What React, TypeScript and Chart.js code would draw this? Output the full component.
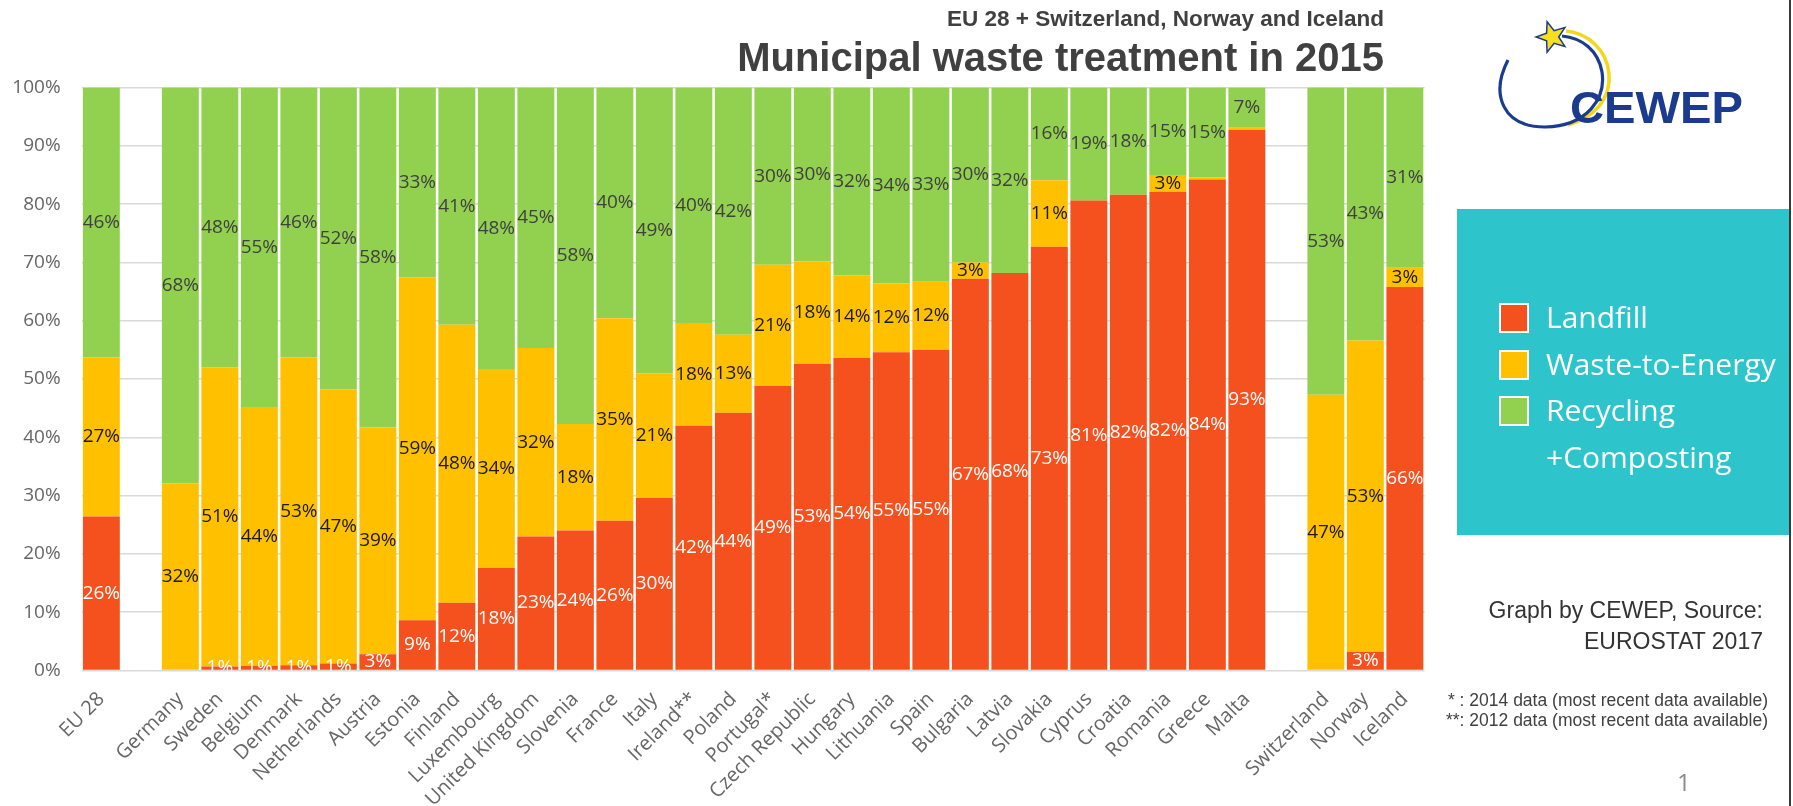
import React, { useEffect, useRef } from 'react';
import { Chart, registerables } from 'chart.js';

Chart.register(...registerables);

// Categories along the x axis (empty strings are spacer slots)
const CATEGORIES = [
  'EU 28', '', 'Germany', 'Sweden', 'Belgium', 'Denmark', 'Netherlands', 'Austria',
  'Estonia', 'Finland', 'Luxembourg', 'United Kingdom', 'Slovenia', 'France', 'Italy',
  'Ireland**', 'Poland', 'Portugal*', 'Czech Republic', 'Hungary', 'Lithuania', 'Spain',
  'Bulgaria', 'Latvia', 'Slovakia', 'Cyprus', 'Croatia', 'Romania', 'Greece', 'Malta',
  '', 'Switzerland', 'Norway', 'Iceland',
];

// Share of municipal waste by treatment, in percent
const LANDFILL = [
  26.4, null, 0, 0.7, 0.8, 0.9, 1.2, 2.8, 8.6, 11.6, 17.6, 23.0, 24.0, 25.7, 29.6,
  42.0, 44.2, 48.8, 52.6, 53.6, 54.6, 55.0, 67.2, 68.2, 72.7, 80.6, 81.6, 82.1, 84.2, 92.7,
  null, 0, 3.2, 65.8,
];
const WASTE_TO_ENERGY = [
  27.3, null, 32.1, 51.3, 44.4, 52.8, 47.0, 38.9, 58.8, 47.7, 34.1, 32.3, 18.3, 34.7, 21.4,
  17.6, 13.4, 20.8, 17.6, 14.2, 11.8, 11.7, 2.8, 0, 11.4, 0, 0, 2.9, 0.4, 0.4,
  null, 47.3, 53.4, 3.3,
];
const RECYCLING = [
  46.3, null, 67.9, 48.0, 54.8, 46.3, 51.8, 58.3, 32.6, 40.7, 48.3, 44.7, 57.7, 39.6, 49.0,
  40.4, 42.4, 30.4, 29.8, 32.2, 33.6, 33.3, 30.0, 31.8, 15.9, 19.4, 18.4, 15.0, 15.4, 6.9,
  null, 52.7, 43.4, 30.9,
];

const SERIES_NAMES = ['Landfill', 'Waste-to-Energy', 'Recycling +Composting'];
const SERIES_COLORS = ['#F4511E', '#FFC000', '#92D050'];
const LABEL_COLORS = ['#FFFFFF', '#1A1A1A', '#404040'];
const Y_TICKS = [0, 10, 20, 30, 40, 50, 60, 70, 80, 90, 100];

const W = 1793;
const H = 806;
const PLOT_LEFT = 81.6;
const PLOT_RIGHT = 1424.6;
const PLOT_TOP = 87.5;
const PLOT_BOTTOM = 670.5;

const CHART_FONT = '"Open Sans", "Noto Sans", sans-serif';
const ARIAL = '"Liberation Sans", Arial, sans-serif';

// Percentage labels centred in every visible segment, clipped to the plot area
const segmentLabels = {
  id: 'segmentLabels',
  afterDatasetsDraw(chart: any) {
    const { ctx, chartArea } = chart;
    ctx.save();
    ctx.beginPath();
    ctx.rect(chartArea.left, chartArea.top, chartArea.right - chartArea.left, chartArea.bottom - chartArea.top);
    ctx.clip();
    ctx.font = `19px ${CHART_FONT}`;
    ctx.textAlign = 'center';
    ctx.textBaseline = 'middle';
    chart.data.datasets.forEach((ds: any, i: number) => {
      const meta = chart.getDatasetMeta(i);
      meta.data.forEach((bar: any, j: number) => {
        const v = ds.data[j];
        if (v == null) return;
        const r = Math.round(v);
        if (r === 0) return;
        const { x, y, base } = bar.getProps(['x', 'y', 'base'], true);
        ctx.fillStyle = LABEL_COLORS[i];
        ctx.fillText(`${r}%`, x, (y + base) / 2);
      });
    });
    ctx.restore();
  },
};

function WasteChart() {
  const ref = useRef<HTMLCanvasElement | null>(null);

  useEffect(() => {
    if (!ref.current) return;
    const seriesData = [LANDFILL, WASTE_TO_ENERGY, RECYCLING];
    const chart = new Chart(ref.current, {
      type: 'bar',
      data: {
        labels: CATEGORIES,
        datasets: SERIES_NAMES.map((name, i) => ({
          label: name,
          data: seriesData[i],
          backgroundColor: SERIES_COLORS[i],
          borderWidth: 0,
          barPercentage: 0.935,
          categoryPercentage: 1,
        })),
      },
      options: {
        responsive: false,
        animation: false,
        devicePixelRatio: 1,
        layout: {
          padding: { top: PLOT_TOP, right: W - PLOT_RIGHT, left: 0, bottom: 0 },
        },
        plugins: {
          legend: { display: false },
          tooltip: { enabled: false },
          title: { display: false },
        },
        scales: {
          x: {
            stacked: true,
            grid: { display: false, drawTicks: false },
            border: { display: false },
            ticks: {
              autoSkip: false,
              maxRotation: 45,
              minRotation: 45,
              padding: 17,
              color: '#666666',
              font: { family: CHART_FONT, size: 20 },
            },
            afterFit: (s: any) => {
              s.height = H - PLOT_BOTTOM;
            },
          },
          y: {
            stacked: true,
            min: 0,
            max: 100,
            afterBuildTicks: (s: any) => {
              s.ticks = Y_TICKS.map((v) => ({ value: v }));
            },
            grid: { color: '#D9D9D9', lineWidth: 1.5, drawTicks: false },
            border: { display: false },
            ticks: {
              padding: 21,
              color: '#666666',
              font: { family: CHART_FONT, size: 19 },
              callback: (v: any) => `${v}%`,
            },
            afterFit: (s: any) => {
              s.width = PLOT_LEFT;
            },
          },
        },
      },
      plugins: [segmentLabels],
    });
    return () => chart.destroy();
  }, []);

  return (
    <canvas
      ref={ref}
      width={W}
      height={H}
      style={{ position: 'absolute', left: 0, top: 0, width: W, height: H }}
    />
  );
}

function Star({ cx, cy, r, rot }: { cx: number; cy: number; r: number; rot: number }) {
  const pts: string[] = [];
  for (let k = 0; k < 10; k++) {
    const rad = k % 2 === 0 ? r : r * 0.42;
    const a = ((rot + k * 36 - 90) * Math.PI) / 180;
    pts.push(`${(cx + rad * Math.cos(a)).toFixed(1)},${(cy + rad * Math.sin(a)).toFixed(1)}`);
  }
  return <polygon points={pts.join(' ')} fill="#F7E01B" stroke="#1B3C8E" strokeWidth={1.5} />;
}

function Logo() {
  return (
    <svg
      width={W}
      height={H}
      style={{ position: 'absolute', left: 0, top: 0, pointerEvents: 'none' }}
    >
      <path
        d="M 1566 31 C 1588 33, 1607 50, 1609 74 C 1611 100, 1593 118, 1568 125"
        fill="none"
        stroke="#F2D81C"
        strokeWidth={3.5}
      />
      <path
        d="M 1508 60 C 1490 95, 1503 127, 1545 127 C 1588 126, 1606 98, 1602 72 C 1598 50, 1582 38, 1562 36"
        fill="none"
        stroke="#1B3C8E"
        strokeWidth={3.2}
      />
      <Star cx={1552} cy={37} r={16} rot={-18} />
      <text
        x={1570}
        y={123}
        fill="#1B3C8E"
        textLength={173}
        lengthAdjust="spacingAndGlyphs"
        style={{ font: `bold 45px ${ARIAL}` }}
      >
        CEWEP
      </text>
      <rect x={1789} y={0} width={2} height={H} fill="#3A3A3A" />
    </svg>
  );
}

function Legend() {
  return (
    <div
      style={{
        position: 'absolute',
        left: 1457,
        top: 209,
        width: 1789 - 1457,
        height: 326,
        background: '#2EC4CB',
      }}
    >
      {SERIES_NAMES.map((name, i) => (
        <div key={name} style={{ position: 'absolute', left: 42, top: 94 + i * 46.5 }}>
          <div
            style={{
              position: 'absolute',
              left: 0,
              top: 0,
              width: 26,
              height: 26,
              background: SERIES_COLORS[i],
              border: '2px solid #FFFFFF',
            }}
          />
          <div
            style={{
              position: 'absolute',
              left: 47,
              top: 0,
              whiteSpace: 'pre',
              color: '#FFFFFF',
              font: `30px/46.5px ${CHART_FONT}`,
              marginTop: -9,
            }}
          >
            {name.replace(' +', '\n+')}
          </div>
        </div>
      ))}
    </div>
  );
}

export default function App() {
  return (
    <div
      style={{
        position: 'absolute',
        left: 0,
        top: 0,
        width: W,
        height: H,
        background: '#FFFFFF',
        overflow: 'hidden',
      }}
    >
      <WasteChart />
      <div
        style={{
          position: 'absolute',
          right: W - 1384,
          top: 7,
          font: `bold 22.5px/24px ${ARIAL}`,
          color: '#404040',
          whiteSpace: 'nowrap',
        }}
      >
        EU 28 + Switzerland, Norway and Iceland
      </div>
      <div
        style={{
          position: 'absolute',
          right: W - 1384,
          top: 36,
          font: `bold 40px/42px ${ARIAL}`,
          color: '#404040',
          whiteSpace: 'nowrap',
        }}
      >
        Municipal waste treatment in 2015
      </div>
      <Logo />
      <Legend />
      <div
        style={{
          position: 'absolute',
          right: W - 1763,
          top: 595,
          font: `23px/31px ${ARIAL}`,
          color: '#333333',
          textAlign: 'right',
          whiteSpace: 'pre',
        }}
      >
        {'Graph by CEWEP, Source:\nEUROSTAT 2017'}
      </div>
      <div
        style={{
          position: 'absolute',
          right: W - 1768,
          top: 690,
          font: `17.5px/20px ${ARIAL}`,
          color: '#404040',
          textAlign: 'right',
          whiteSpace: 'pre',
        }}
      >
        {'* : 2014 data (most recent data available)\n**: 2012 data (most recent data available)'}
      </div>
      <div
        style={{
          position: 'absolute',
          left: 1677,
          top: 766,
          font: `24px/32px ${CHART_FONT}`,
          color: '#8A8A8A',
        }}
      >
        1
      </div>
    </div>
  );
}
